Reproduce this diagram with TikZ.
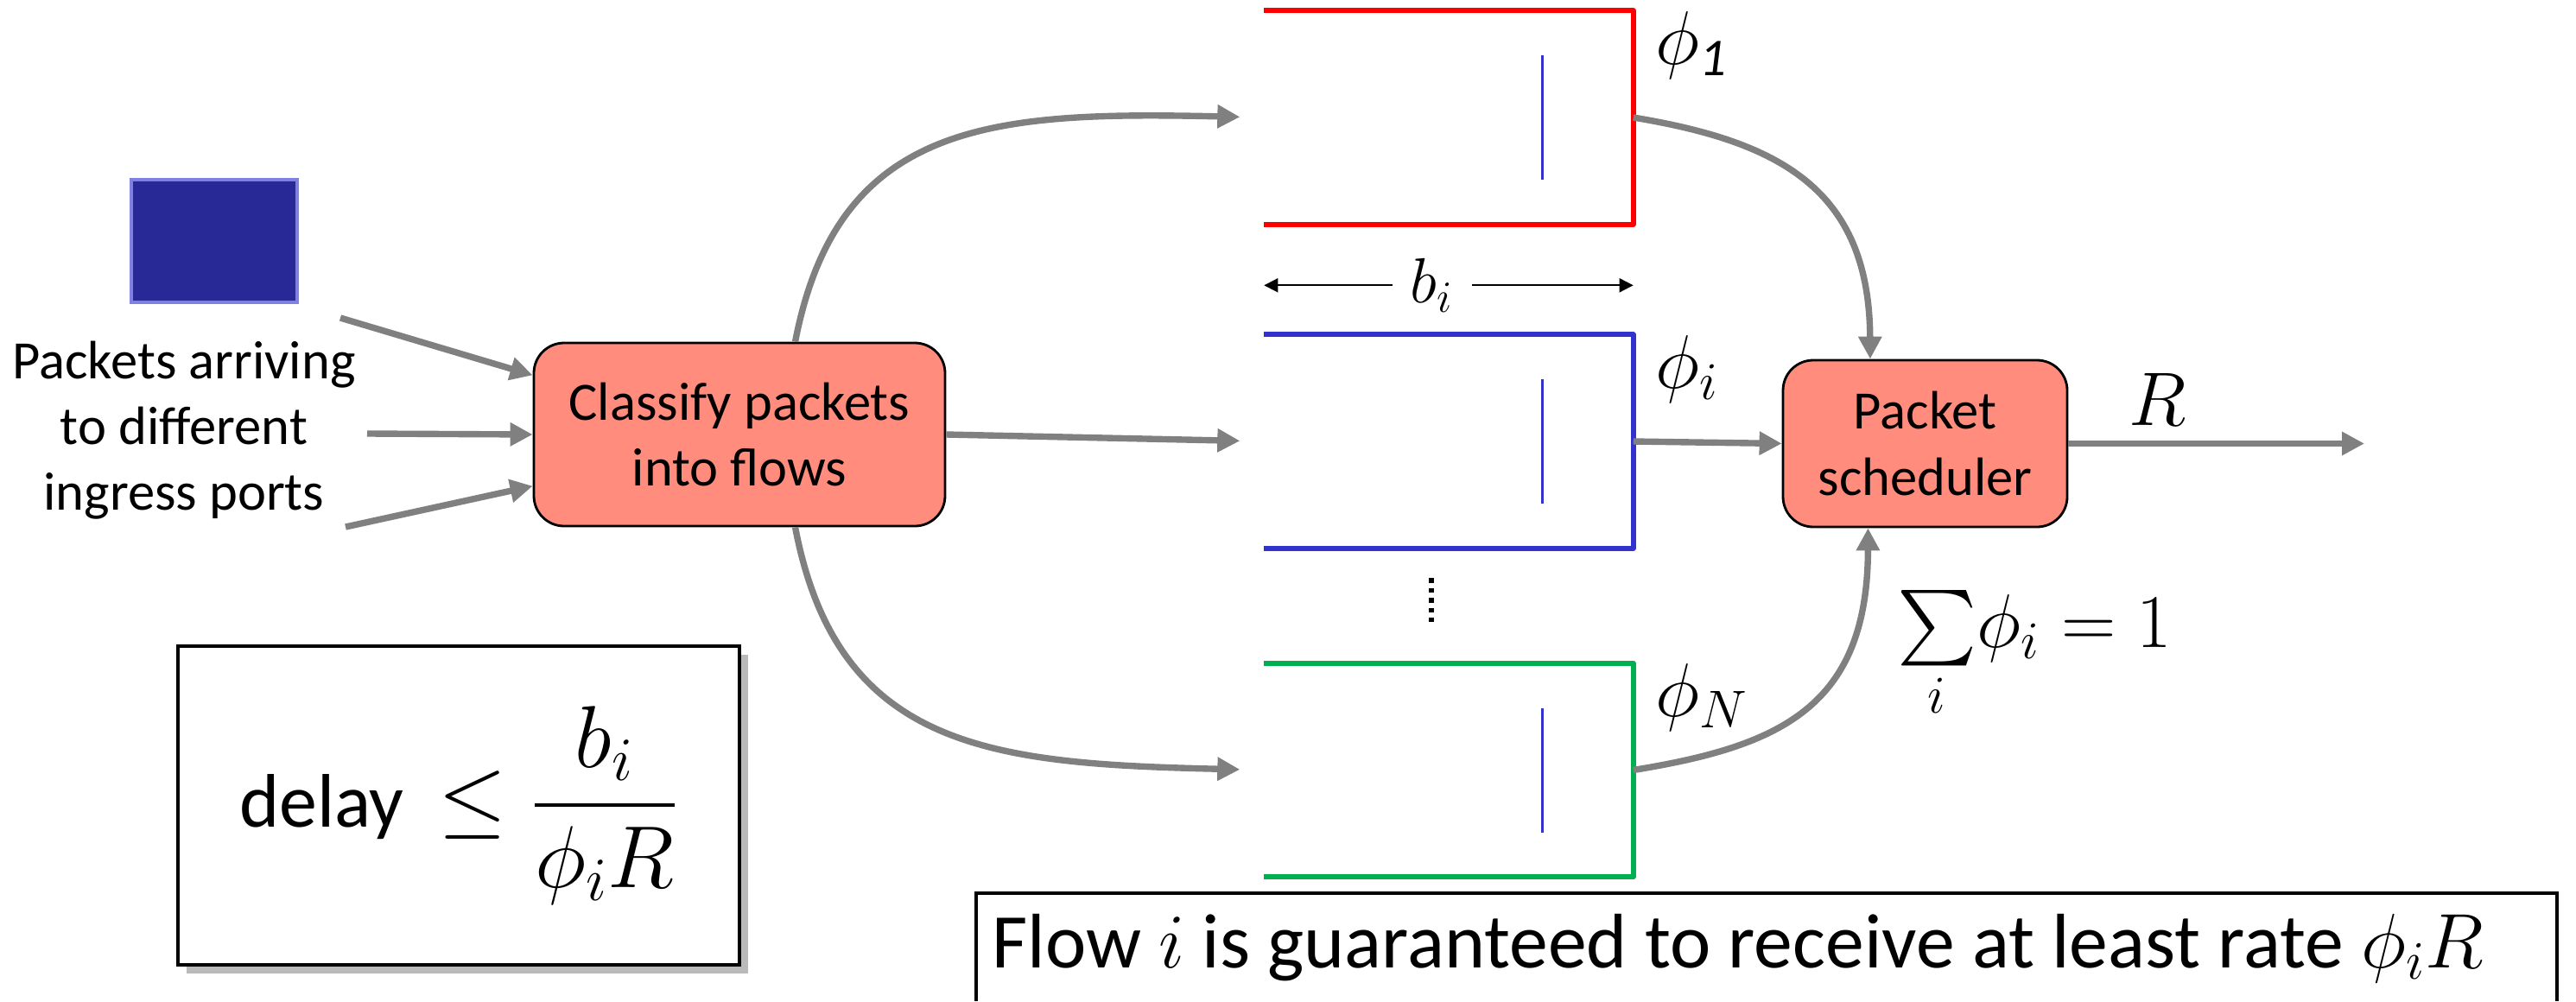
\RequirePackage{fix-cm}
\documentclass[tikz,border=0pt]{standalone}
\usepackage{amsmath}
\usepackage{fontspec}
\setmainfont{Carlito}
\usetikzlibrary{arrows.meta, shadows}
\definecolor{salmon}{RGB}{255,140,124}
\definecolor{pktblue}{RGB}{40,40,150}
\definecolor{pktedge}{RGB}{128,128,224}
\definecolor{qblue}{RGB}{51,51,204}
\definecolor{qgreen}{RGB}{0,176,80}
\definecolor{flowgray}{RGB}{128,128,128}
\newcommand{\boxfont}{\fontsize{17.8}{21.7}\selectfont}
\newcommand{\mathfont}{\fontsize{25}{30}\selectfont}

\begin{document}
\begin{tikzpicture}[
    flow/.style={flowgray, line width=2.1pt, -{Triangle[length=2.6mm,width=2.6mm]}},
    feed/.style={flow, shorten >=0.28cm},
    block/.style={draw=black, line width=0.8pt, fill=salmon, rounded corners=0.35cm,
        align=center, font=\boxfont},
    queue/.style={minimum width=4.26cm, minimum height=2.46cm, inner sep=0pt},
    rate/.style={anchor=north west, inner sep=0pt, xshift=0.25cm, font=\mathfont}]
    % Page frame
    \useasboundingbox (0,0) rectangle (29.82,11.59);
    \clip (0,0) rectangle (29.82,11.59);

    % Arriving packets
    \node (pkt) [fill=pktblue, draw=pktedge, line width=0.9pt, minimum width=1.92cm,
        minimum height=1.42cm] at (2.48,8.80) {};
    \node (arrive) [align=center, font=\boxfont] at (2.13,6.61)
        {Packets arriving\\to different\\ingress ports};
    \node (classify) [block, minimum width=4.76cm, minimum height=2.12cm] at (8.56,6.56)
        {Classify packets\\into flows};
    \coordinate (in1) at (3.94,7.91);
    \coordinate (in2) at (4.25,6.57);
    \coordinate (in3) at (4.00,5.49);
    \draw[flow] (in1) -- (classify.164);
    \draw[flow] (in2) -- (classify.west);
    \draw[flow] (in3) -- (classify.194);

    % Per-flow queues
    \node (q1) [queue] at (16.77,10.23) {};
    \node (qi) [queue] at (16.77,6.48) {};
    \node (qN) [queue] at (16.77,2.675) {};
    \foreach \q/\c in {q1/red, qi/qblue, qN/qgreen} {
        \draw[\c, line width=1.6pt, line join=round]
            (\q.north west) -- (\q.north east) -- (\q.south east) -- (\q.south west);
        \draw[qblue, line width=0.7pt] ([xshift=-1.05cm]\q.east) ++(0,0.72) -- ++(0,-1.44);
    }
    \node (phi1) [rate] at (q1.north east) {$\phi_{\mathit{1}}$};
    \node (phii) [rate] at (qi.north east) {$\phi_i$};
    \node (phiN) [rate] at (qN.north east) {$\phi_N$};
    \draw[{Triangle[length=1.6mm,width=1.6mm]}-{Triangle[length=1.6mm,width=1.6mm]}, line width=0.55pt]
        ([yshift=0.57cm]qi.north west) -- node[pos=0.455, fill=white, inner xsep=6pt,
        font=\fontsize{21}{25}\selectfont] (bsize) {$b_i$} ([yshift=0.57cm]qi.north east);
    \draw[line width=1.6pt, dash pattern=on 1.6pt off 1.7pt] (16.57,4.90) -- (16.57,4.39);

    \draw[feed] (classify.59) .. controls (9.7,10.2) and (11.5,10.3) .. (q1.west);
    \draw[feed] (classify.east) -- (qi.west);
    \draw[feed] (classify.301) .. controls (9.7,2.9) and (11.5,2.75) .. (qN.west);

    % Scheduler
    \node (sched) [block, minimum width=3.29cm, minimum height=1.93cm] at (22.285,6.455)
        {Packet\\scheduler};
    \draw[flow] (q1.east) .. controls (20.6,9.95) and (21.64,9.4) .. (sched.123);
    \draw[flow] (qi.east) -- (sched.west);
    \draw[flow] (qN.east) .. controls (20.6,2.95) and (21.62,3.4) .. (sched.236);
    \coordinate (out) at (27.37,6.455);
    \draw[flow] (sched.east) -- node[pos=0.3, anchor=south, inner sep=0pt, yshift=0.17cm,
        text=black, font=\mathfont] (rateR) {$R$} (out);
    \node (norm) [font=\mathfont] at (23.55,4.0) {$\sum\limits_i\! \phi_i = 1$};

    % Bounds
    \node (delay) [draw, line width=0.9pt, fill=white, minimum width=6.50cm, minimum height=3.69cm,
        drop shadow={shadow xshift=0.1cm, shadow yshift=-0.1cm, fill=black!45, opacity=0.6},
        font=\mathfont] at (5.31,2.265)
        {delay~~{\fontsize{29}{34}\selectfont$\leq \dfrac{b_i}{\phi_i R}$}\hspace{0.3cm}};
    \node (guarantee) [anchor=base west, inner sep=0pt, font=\fontsize{25.5}{30}\selectfont]
        at (11.48,0.39) {Flow $i$ is guaranteed to receive at least rate $\phi_i R$};
    \draw[line width=0.9pt] (11.30,0) |- (29.60,1.25) -- (29.60,0);
\end{tikzpicture}
\end{document}
